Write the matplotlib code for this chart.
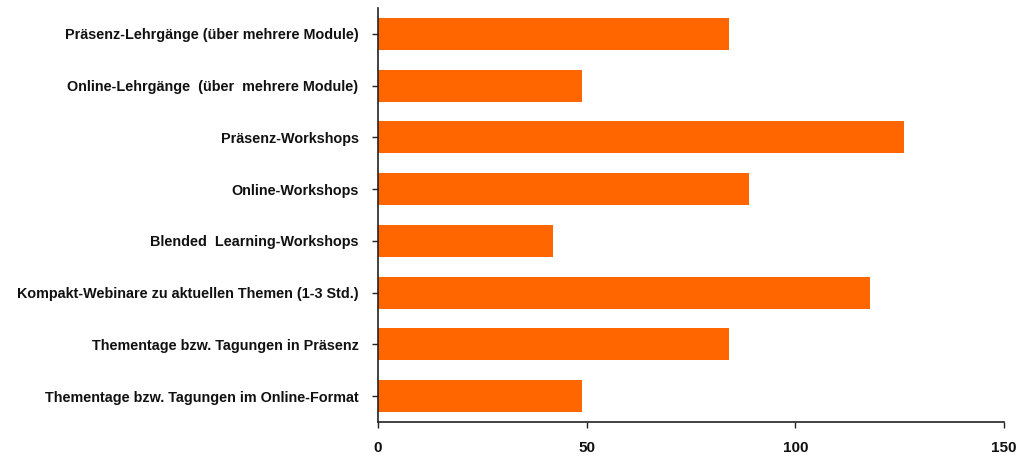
import matplotlib
matplotlib.use("Agg")
import matplotlib.pyplot as plt

categories = [
    "Präsenz-Lehrgänge (über mehrere Module)",
    "Online-Lehrgänge  (über  mehrere Module)",
    "Präsenz-Workshops",
    "Online-Workshops",
    "Blended  Learning-Workshops",
    "Kompakt-Webinare zu aktuellen Themen (1-3 Std.)",
    "Thementage bzw. Tagungen in Präsenz",
    "Thementage bzw. Tagungen im Online-Format",
]
values = [84, 49, 126, 89, 42, 118, 84, 49]
xticks = [0, 50, 100, 150]

plt.rcParams['font.family'] = ['Liberation Sans', 'DejaVu Sans']

fig = plt.figure(figsize=(10.30, 4.59), dpi=100)
ax = fig.add_axes([378/1030, 1-422/459, (1004-378)/1030, (422-8)/459])

pos = list(range(len(categories)))
ax.barh(pos, values, height=0.62, color="#FF6600")
ax.set_ylim(len(categories)-0.5, -0.5)
ax.set_xlim(0, 150)
ax.set_yticks(pos)
ax.set_yticklabels(categories, fontsize=10.4, fontweight='bold', color='#111111')
ax.set_xticks(xticks)
ax.set_xticklabels([str(t) for t in xticks], fontsize=11, fontweight='bold', color='#111111')
for s in ['top', 'right']:
    ax.spines[s].set_visible(False)
for s in ['left', 'bottom']:
    ax.spines[s].set_linewidth(1.2)
    ax.spines[s].set_color('#222222')
ax.tick_params(axis='y', length=4, width=1, pad=10, color='#222222')
ax.tick_params(axis='x', length=4, width=1, pad=10, color='#222222')
fig.savefig("out.png", dpi=100)
